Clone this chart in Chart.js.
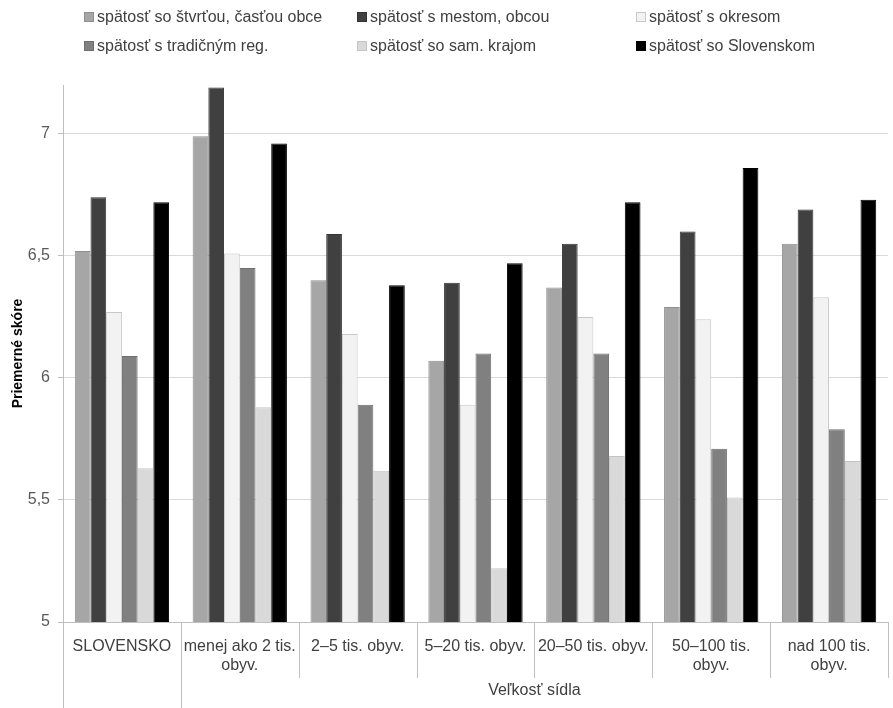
<!DOCTYPE html>
<html>
<head>
<meta charset="utf-8">
<script src="https://cdn.jsdelivr.net/npm/chart.js@4/dist/chart.umd.min.js"></script>
<style>
  body { margin: 0; background: #fff; }
  #wrap { position: relative; width: 893px; height: 708px; }
  #legend { position: absolute; left: 0; top: 0; width: 893px; height: 70px;
    font-family: 'Liberation Sans', sans-serif; font-size: 16px; color: #404040; }
  .item { position: absolute; display: flex; align-items: center; white-space: nowrap; }
  .box { width: 10px; height: 10px; margin-right: 3px; box-sizing: border-box; }
</style>
</head>
<body>
<div id="wrap">
  <canvas id="chart" width="893" height="708"></canvas>
  <div id="legend"></div>
</div>
<script>
/* ================= DATA ================= */
const categories = [
  "SLOVENSKO",
  ["menej ako 2 tis.", "obyv."],
  "2–5 tis. obyv.",
  "5–20 tis. obyv.",
  "20–50 tis. obyv.",
  ["50–100 tis.", "obyv."],
  ["nad 100 tis.", "obyv."]
];
const groupTitle = "Veľkosť sídla";
const seriesNames = [
  "spätosť so štvrťou, časťou obce",
  "spätosť s mestom, obcou",
  "spätosť s okresom",
  "spätosť s tradičným reg.",
  "spätosť so sam. krajom",
  "spätosť so Slovenskom"
];
const stvrt     = [6.52, 6.99, 6.40, 6.07, 6.37, 6.29, 6.55];
const mesto     = [6.74, 7.19, 6.59, 6.39, 6.55, 6.60, 6.69];
const okres     = [6.27, 6.51, 6.18, 5.89, 6.25, 6.24, 6.33];
const region    = [6.09, 6.45, 5.89, 6.10, 6.10, 5.71, 5.79];
const kraj      = [5.63, 5.88, 5.62, 5.22, 5.68, 5.51, 5.66];
const slovensko = [6.72, 6.96, 6.38, 6.47, 6.72, 6.86, 6.73];
const yTicks = [5, 5.5, 6, 6.5, 7];

const fills   = ["#a6a6a6", "#404040", "#f2f2f2", "#808080", "#d9d9d9", "#000000"];
const borders = ["#8f8f8f", "#333333", "#c8c8c8", "#6e6e6e", "#c4c4c4", "#000000"];
const series  = [stvrt, mesto, okres, region, kraj, slovensko];

const FONT = "'Liberation Sans', sans-serif";

/* ================= SECOND LEVEL AXIS ================= */
const groupAxis = {
  id: "groupAxis",
  afterDraw(chart) {
    const { ctx, chartArea } = chart;
    const n = categories.length;
    const step = (chartArea.right - chartArea.left) / n;
    const bottom = chartArea.bottom;
    ctx.save();
    ctx.strokeStyle = "#bfbfbf";
    ctx.lineWidth = 1;
    for (let i = 0; i <= n; i++) {
      const px = Math.round(chartArea.left + step * i) + 0.5;
      const end = i <= 1 ? chart.height : bottom + 56;
      ctx.beginPath();
      ctx.moveTo(px, bottom);
      ctx.lineTo(px, end);
      ctx.stroke();
    }
    ctx.fillStyle = "#404040";
    ctx.font = "16px " + FONT;
    ctx.textAlign = "center";
    ctx.textBaseline = "middle";
    const mid = (chartArea.left + step + chartArea.right) / 2;
    ctx.fillText(groupTitle, mid, bottom + 69);
    ctx.restore();
  }
};

/* ================= CHART ================= */
const chart = new Chart(document.getElementById("chart"), {
  type: "bar",
  data: {
    labels: categories,
    datasets: series.map((d, i) => ({
      label: seriesNames[i],
      data: d,
      backgroundColor: fills[i],
      borderColor: borders[i],
      borderWidth: 1,
      categoryPercentage: 0.8,
      barPercentage: 1
    }))
  },
  options: {
    responsive: false,
    animation: false,
    layout: { padding: { top: 85, right: 5, left: 0, bottom: 0 } },
    plugins: {
      legend: { display: false },
      tooltip: { enabled: false }
    },
    scales: {
      x: {
        grid: { display: false, drawTicks: false },
        border: { color: "#bfbfbf" },
        ticks: {
          color: "#404040",
          font: { family: FONT, size: 16 },
          padding: 15,
          maxRotation: 0,
          autoSkip: false
        },
        afterFit(scale) { scale.height = 86; }
      },
      y: {
        min: 5,
        max: 7.2,
        afterBuildTicks(scale) {
          scale.ticks = yTicks.map(v => ({ value: v }));
        },
        grid: { color: "#d9d9d9", drawTicks: true, tickLength: 5, tickColor: "#bfbfbf" },
        border: { color: "#bfbfbf" },
        ticks: {
          color: "#595959",
          font: { family: FONT, size: 16 },
          padding: 8,
          callback: v => String(v).replace(".", ",")
        },
        title: {
          display: true,
          text: "Priemerné skóre",
          color: "#000",
          font: { family: FONT, size: 14, weight: "bold" },
          padding: { top: 10, bottom: 6 }
        },
        afterFit(scale) { scale.width = 63; }
      }
    }
  },
  plugins: [groupAxis]
});

/* ================= LEGEND ================= */
const legendCols = [84, 357, 636];
const legendRows = [17, 46];
const legend = document.getElementById("legend");
chart.data.datasets.forEach((ds, i) => {
  const item = document.createElement("div");
  item.className = "item";
  item.style.left = legendCols[i % 3] + "px";
  item.style.top = (legendRows[Math.floor(i / 3)] - 10) + "px";
  item.style.height = "20px";
  const box = document.createElement("span");
  box.className = "box";
  box.style.background = ds.backgroundColor;
  box.style.border = "1px solid " + ds.borderColor;
  const txt = document.createElement("span");
  txt.textContent = ds.label;
  item.appendChild(box);
  item.appendChild(txt);
  legend.appendChild(item);
});
</script>
</body>
</html>
